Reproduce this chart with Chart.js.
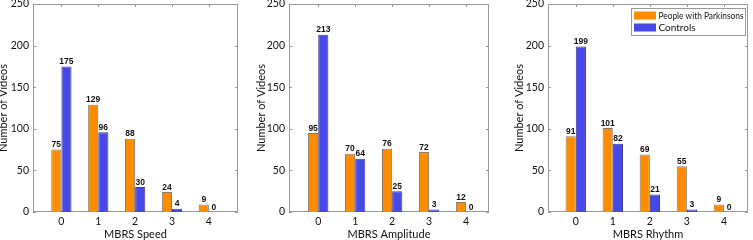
<!DOCTYPE html>
<html>
<head>
<meta charset="utf-8">
<script src="https://cdn.jsdelivr.net/npm/chart.js@4.4.0/dist/chart.umd.min.js"></script>
<style>
  html, body { margin: 0; padding: 0; background: #fff; }
  #wrap { position: relative; width: 753px; height: 240px; overflow: hidden; }
  .panel { position: absolute; top: 0; }
</style>
</head>
<body>
<div id="wrap">
  <canvas id="speedChart" class="panel" style="left:0px" width="250" height="240"></canvas>
  <canvas id="amplitudeChart" class="panel" style="left:250px" width="250" height="240"></canvas>
  <canvas id="rhythmChart" class="panel" style="left:500px" width="253" height="240"></canvas>
</div>
<script>
// MBRS scores on the x axis
const scores = [0, 1, 2, 3, 4];
const yTickValues = [0, 50, 100, 150, 200, 250];

// number of videos per score
const speedPD = [75, 129, 88, 24, 9];
const speedControls = [175, 96, 30, 4, 0];
const amplitudePD = [95, 70, 76, 72, 12];
const amplitudeControls = [213, 64, 25, 3, 0];
const rhythmPD = [91, 101, 69, 55, 9];
const rhythmControls = [199, 82, 21, 3, 0];

const seriesNames = ['People with Parkinsons', 'Controls'];

const orange = 'rgb(255,140,0)';
const blue = 'rgb(72,72,232)';
const axisGray = '#9a9a9a';
const textColor = '#111';
const uiFont = 'Lato, "Open Sans", sans-serif';

// draws the box round the plot, inner tick marks, value labels and (optionally) the legend
const framePlugin = {
    id: 'frame',
    beforeDatasetsDraw(chart) {
        const ctx = chart.ctx;
        const a = chart.chartArea;
        const xs = chart.scales.x;
        const ys = chart.scales.y;
        ctx.save();
        ctx.strokeStyle = axisGray;
        ctx.lineWidth = 1;
        ctx.beginPath();
        xs.ticks.forEach(t => {
            const px = Math.round(xs.getPixelForValue(t.value)) + 0.5;
            ctx.moveTo(px, a.top);
            ctx.lineTo(px, a.top + 3);
        });
        ys.ticks.forEach(t => {
            const py = Math.round(ys.getPixelForValue(t.value)) + 0.5;
            ctx.moveTo(a.left, py);
            ctx.lineTo(a.left + 3, py);
            ctx.moveTo(a.right, py);
            ctx.lineTo(a.right - 3, py);
        });
        ctx.stroke();
        ctx.strokeRect(Math.round(a.left) + 0.5, Math.round(a.top) + 0.5,
            Math.round(a.width) - 1, Math.round(a.height) - 1);
        ctx.restore();
    },
    afterDatasetsDraw(chart, args, opts) {
        const ctx = chart.ctx;
        ctx.save();
        ctx.fillStyle = '#111';
        ctx.font = 'bold 8.5px "Liberation Sans", Arial, sans-serif';
        ctx.textAlign = 'center';
        ctx.textBaseline = 'bottom';
        chart.data.datasets.forEach((ds, i) => {
            chart.getDatasetMeta(i).data.forEach((bar, j) => {
                ctx.fillText(String(ds.data[j].y), bar.x, bar.y - 0.5);
            });
        });

        if (opts.legend) {
            const a = chart.chartArea;
            const boxW = 114, boxH = 27;
            const bx = Math.round(a.right - boxW - 3) + 0.5;
            const by = Math.round(a.top + 4) + 0.5;
            ctx.fillStyle = '#fff';
            ctx.fillRect(bx, by, boxW, boxH);
            ctx.strokeStyle = axisGray;
            ctx.lineWidth = 1;
            ctx.strokeRect(bx, by, boxW, boxH);
            ctx.font = '10px ' + uiFont;
            ctx.textAlign = 'left';
            ctx.textBaseline = 'middle';
            chart.data.datasets.forEach((ds, i) => {
                const sy = by + 3 + i * 12;
                ctx.fillStyle = ds.backgroundColor;
                ctx.fillRect(bx + 2.5, sy, 22, 8);
                ctx.fillStyle = textColor;
                ctx.fillText(ds.label, bx + 27, sy + 4, boxW - 29);
            });
        }
        ctx.restore();
    }
};

function makePanel(canvasId, axisTitle, pd, controls, layout) {
    const toPoints = vals => scores.map((s, i) => ({ x: s, y: vals[i] }));
    return new Chart(document.getElementById(canvasId), {
        type: 'bar',
        data: {
            datasets: [
                {
                    label: seriesNames[0],
                    data: toPoints(pd),
                    backgroundColor: orange,
                    borderColor: 'rgba(120,100,70,0.85)',
                    borderWidth: 1
                },
                {
                    label: seriesNames[1],
                    data: toPoints(controls),
                    backgroundColor: blue,
                    borderColor: 'rgba(40,40,140,0.9)',
                    borderWidth: 1
                }
            ]
        },
        plugins: [framePlugin],
        options: {
            responsive: false,
            animation: false,
            devicePixelRatio: 1,
            categoryPercentage: 0.55,
            barPercentage: 1.0,
            layout: { padding: { left: 0, right: layout.padRight, top: 4, bottom: 0 } },
            plugins: {
                legend: { display: false },
                tooltip: { enabled: false },
                frame: { legend: layout.legend }
            },
            scales: {
                x: {
                    type: 'linear',
                    offset: false,
                    min: layout.xMin,
                    max: layout.xMax,
                    afterBuildTicks: s => { s.ticks = scores.map(v => ({ value: v })); },
                    afterFit: s => { s.height = 28; s.paddingLeft = 0; s.paddingRight = 0; },
                    grid: { display: false, drawTicks: false, offset: false },
                    border: { display: false },
                    ticks: { padding: 3, color: textColor, font: { family: uiFont, size: 10.5 } },
                    title: {
                        display: true,
                        text: axisTitle,
                        color: textColor,
                        padding: { top: 0, bottom: 0 },
                        font: { family: uiFont, size: 11, lineHeight: 1 }
                    }
                },
                y: {
                    min: 0,
                    max: 250,
                    afterBuildTicks: s => { s.ticks = yTickValues.map(v => ({ value: v })); },
                    afterFit: s => { s.width = layout.yWidth; s.paddingTop = 0; s.paddingBottom = 0; },
                    grid: { display: false, drawTicks: false },
                    border: { display: false },
                    ticks: { padding: 4, color: textColor, font: { family: uiFont, size: 10.5 } },
                    title: {
                        display: true,
                        text: 'Number of Videos',
                        color: textColor,
                        padding: { top: layout.titlePad, bottom: 0 },
                        font: { family: uiFont, size: 11, lineHeight: 1 }
                    }
                }
            }
        }
    });
}

makePanel('speedChart', 'MBRS Speed', speedPD, speedControls,
    { xMin: -0.77, xMax: 4.79, yWidth: 33, padRight: 12, titlePad: -2, legend: false });
makePanel('amplitudeChart', 'MBRS Amplitude', amplitudePD, amplitudeControls,
    { xMin: -0.79, xMax: 4.62, yWidth: 39, padRight: 11, titlePad: 6, legend: false });
makePanel('rhythmChart', 'MBRS Rhythm', rhythmPD, rhythmControls,
    { xMin: -0.75, xMax: 4.65, yWidth: 48, padRight: 5, titlePad: 14, legend: true });
</script>
</body>
</html>
